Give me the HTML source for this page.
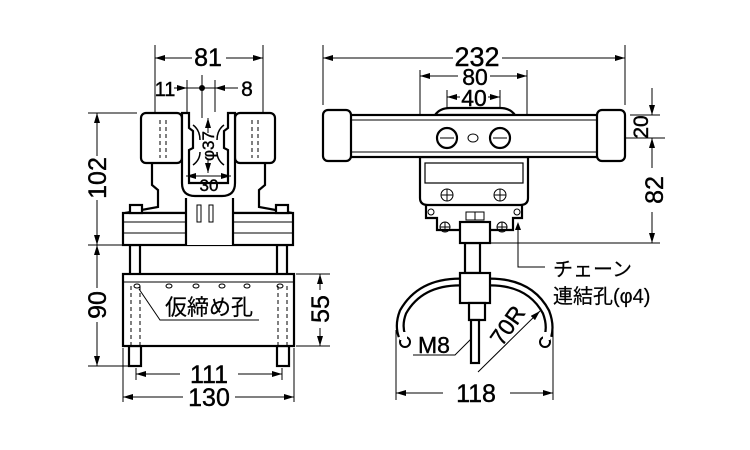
<!DOCTYPE html>
<html><head><meta charset="utf-8"><style>
html,body{margin:0;padding:0;background:#fff;}
svg{display:block;}
text{font-family:"Liberation Sans Narrow","Liberation Sans","Noto Sans CJK JP",sans-serif;fill:#000;stroke:#000;stroke-width:0.4;}
.j{font-family:"Liberation Sans","Noto Sans CJK JP",sans-serif;stroke-width:0.2;}
</style></head><body>
<svg width="750" height="450" viewBox="0 0 750 450" xmlns="http://www.w3.org/2000/svg">
<defs>
<marker id="a" viewBox="0 0 10 6" refX="10" refY="3" markerWidth="10" markerHeight="6" orient="auto-start-reverse" markerUnits="userSpaceOnUse"><path d="M0,0 L10,3 L0,6z" fill="#000"/></marker>
</defs>
<g stroke="#000" fill="none" stroke-width="1">
<line x1="155" y1="45" x2="155" y2="160"/><line x1="263" y1="45" x2="263" y2="160"/>
<line x1="155" y1="58" x2="192" y2="58" marker-start="url(#a)"/><line x1="226" y1="58" x2="263" y2="58" marker-end="url(#a)"/>
<line x1="187" y1="80" x2="187" y2="112"/><line x1="215" y1="80" x2="215" y2="112"/><line x1="202" y1="75" x2="202" y2="118"/>
<line x1="174" y1="88" x2="187" y2="88" marker-end="url(#a)"/><line x1="187" y1="88" x2="215" y2="88"/><line x1="238" y1="88" x2="215" y2="88" marker-end="url(#a)"/>
<line x1="88" y1="113" x2="137" y2="113"/><line x1="88" y1="245" x2="122" y2="245"/><line x1="88" y1="366" x2="129" y2="366"/>
<line x1="97" y1="113" x2="97" y2="156" marker-start="url(#a)"/><line x1="97" y1="200" x2="97" y2="245" marker-end="url(#a)"/>
<line x1="97" y1="245" x2="97" y2="288" marker-start="url(#a)"/><line x1="97" y1="322" x2="97" y2="366" marker-end="url(#a)"/>
<line x1="296" y1="274" x2="330" y2="274"/><line x1="296" y1="346" x2="330" y2="346"/>
<line x1="320" y1="274" x2="320" y2="290" marker-start="url(#a)"/><line x1="320" y1="328" x2="320" y2="346" marker-end="url(#a)"/>
<line x1="136" y1="368" x2="136" y2="380"/><line x1="282" y1="368" x2="282" y2="380"/>
<line x1="136" y1="374" x2="180" y2="374" marker-start="url(#a)"/><line x1="238" y1="374" x2="282" y2="374" marker-end="url(#a)"/>
<line x1="123" y1="348" x2="123" y2="402"/><line x1="294" y1="348" x2="294" y2="402"/>
<line x1="123" y1="397" x2="183" y2="397" marker-start="url(#a)"/><line x1="235" y1="397" x2="294" y2="397" marker-end="url(#a)"/>
</g>
<g stroke="#000" fill="#fff" stroke-width="2.2">
<rect x="130" y="245" width="10" height="30"/><rect x="277" y="245" width="10" height="30"/>
<rect x="129" y="346" width="12" height="20"/><rect x="277" y="346" width="12" height="20"/>
<rect x="123" y="274" width="171" height="72"/>
<path d="M152 160 L152 185 L158 190 L158 207 L125 213 L292 213 L259 207 L259 190 L265 185 L265 160"/>
<rect x="123" y="213" width="170" height="32"/>
<rect x="186" y="198" width="47" height="47" stroke="none"/>
<path d="M186 198 L186 245 M233 198 L233 245"/>
<rect x="141" y="113" width="41" height="50" rx="5"/><rect x="235" y="113" width="40" height="50" rx="5"/>
<path d="M182 113 L182 183 Q182 196 195 196 L222 196 Q235 196 235 183 L235 113 L228 113 L228 128 L224 131 L224 148 L228 150 L228 183 L189 183 L189 150 L193 148 L193 131 L189 128 L189 113 Z"/>
<path d="M193 125 Q200 130 200 140 M224 125 Q217 130 217 140 M193 165 Q200 160 200 152 M224 165 Q217 160 217 152" fill="none" stroke-width="1.5"/>
<rect x="130" y="205" width="12" height="8"/><rect x="276" y="205" width="12" height="8"/>
</g>
<g stroke="#000" fill="none" stroke-width="1">
<line x1="123" y1="282" x2="294" y2="282"/>
<line x1="123" y1="222" x2="186" y2="222"/><line x1="233" y1="222" x2="293" y2="222"/>
<line x1="123" y1="233" x2="186" y2="233"/><line x1="233" y1="233" x2="293" y2="233"/>
<rect x="197" y="205" width="4" height="17"/><rect x="209" y="205" width="4" height="17"/>
<g stroke-dasharray="4,3"><line x1="131" y1="286" x2="131" y2="346"/><line x1="140" y1="286" x2="140" y2="346"/><line x1="278" y1="286" x2="278" y2="346"/><line x1="287" y1="286" x2="287" y2="346"/>
<line x1="160" y1="120" x2="160" y2="158"/><line x1="166" y1="120" x2="166" y2="158"/><line x1="252" y1="120" x2="252" y2="158"/><line x1="258" y1="120" x2="258" y2="158"/></g>
<ellipse cx="137" cy="286" rx="3" ry="2"/><ellipse cx="169" cy="286" rx="3" ry="2"/><ellipse cx="196" cy="286" rx="3" ry="2"/><ellipse cx="222" cy="286" rx="3" ry="2"/><ellipse cx="247" cy="286" rx="3" ry="2"/><ellipse cx="280" cy="286" rx="3" ry="2"/>
<polyline points="259,320 160,320 139,289"/>
<line x1="208" y1="133" x2="208" y2="118" marker-end="url(#a)"/><line x1="208" y1="160" x2="208" y2="173" marker-end="url(#a)"/>
<line x1="186" y1="176" x2="231" y2="176" marker-start="url(#a)" marker-end="url(#a)"/>
</g>
<circle cx="202" cy="88" r="3" fill="#000"/>
<text x="208" y="66" font-size="25" text-anchor="middle">81</text>
<text x="165" y="96" font-size="20" text-anchor="middle">11</text>
<text x="247" y="96" font-size="21" text-anchor="middle">8</text>
<text transform="translate(106,178) rotate(-90)" font-size="25" text-anchor="middle">102</text>
<text transform="translate(106,305) rotate(-90)" font-size="25" text-anchor="middle">90</text>
<text transform="translate(329,309) rotate(-90)" font-size="25" text-anchor="middle">55</text>
<text transform="translate(214,146) rotate(-90)" font-size="17" text-anchor="middle">φ37</text>
<text x="209" y="191" font-size="17" text-anchor="middle">30</text>
<text x="209" y="383" font-size="25" text-anchor="middle">111</text>
<text x="209" y="406" font-size="25" text-anchor="middle">130</text>
<text class="j" x="209" y="315" font-size="22" text-anchor="middle">仮締め孔</text>

<g stroke="#000" fill="none" stroke-width="1">
<line x1="323" y1="45" x2="323" y2="105"/><line x1="625" y1="45" x2="625" y2="105"/>
<line x1="323" y1="58" x2="453" y2="58" marker-start="url(#a)"/><line x1="502" y1="58" x2="625" y2="58" marker-end="url(#a)"/>
<line x1="420" y1="70" x2="420" y2="125"/><line x1="527" y1="70" x2="527" y2="125"/>
<line x1="420" y1="76" x2="458" y2="76" marker-start="url(#a)"/><line x1="490" y1="76" x2="527" y2="76" marker-end="url(#a)"/>
<line x1="447" y1="90" x2="447" y2="152"/><line x1="500" y1="90" x2="500" y2="152"/>
<line x1="447" y1="97" x2="460" y2="97" marker-start="url(#a)"/><line x1="488" y1="97" x2="500" y2="97" marker-end="url(#a)"/>
<line x1="430" y1="138" x2="665" y2="138"/>
<line x1="630" y1="115" x2="660" y2="115"/>
<line x1="652" y1="88" x2="652" y2="115" marker-end="url(#a)"/><line x1="652" y1="165" x2="652" y2="138" marker-end="url(#a)"/>
<line x1="652" y1="138" x2="652" y2="168"/><line x1="652" y1="212" x2="652" y2="243" marker-end="url(#a)"/>
<line x1="490" y1="243" x2="660" y2="243"/>
<g stroke-dasharray="5,3"><line x1="420" y1="125" x2="420" y2="155"/><line x1="527" y1="125" x2="527" y2="155"/></g>
<polyline points="545,267 518,267 518,224"/>
<line x1="396" y1="330" x2="396" y2="400"/><line x1="553" y1="330" x2="553" y2="400"/>
<line x1="396" y1="393" x2="443" y2="393" marker-start="url(#a)"/><line x1="510" y1="393" x2="553" y2="393" marker-end="url(#a)"/>
<polyline points="413,355 455,355 475,335"/>
<line x1="478" y1="372" x2="540" y2="311" marker-end="url(#a)"/>
</g>
<polygon points="518,222 515,230 521,230" fill="#000"/>
<g stroke="#000" fill="#fff" stroke-width="2.2">
<rect x="465" y="243" width="15" height="30"/>
<path d="M402 336 Q398 325 403 312 Q420 282 460 282 L490 282 Q530 282 546 312 Q551 325 548 336" stroke-width="9" fill="none"/>
<path d="M402 336 Q398 325 403 312 Q420 282 460 282 L490 282 Q530 282 546 312 Q551 325 548 336" stroke="#fff" stroke-width="4.5" fill="none"/>
<circle cx="405" cy="342" r="5" stroke-width="2"/><circle cx="545" cy="342" r="5" stroke-width="2"/>
<rect x="400" y="332" width="7" height="8" stroke="none"/><rect x="543" y="332" width="7" height="8" stroke="none"/>
<rect x="460" y="273" width="30" height="30"/>
<rect x="469" y="303" width="16" height="17"/>
<rect x="471" y="320" width="8" height="43"/>
<path d="M426 200 L426 218 L437 218 L437 230 L513 230 L513 218 L522 218 L522 200 Z"/>
<path d="M420 157 L420 198 Q420 205 428 205 L520 205 Q528 205 528 198 L528 157 Z"/>
<rect x="425" y="163" width="98" height="20" stroke-width="1.2"/>
<rect x="460" y="222" width="30" height="21"/>
<path d="M435 115 Q440 108 450 108 L500 108 Q510 108 515 115 Z"/>
<rect x="345" y="115" width="258" height="42"/>
<rect x="323" y="110" width="28" height="51" rx="5"/><rect x="597" y="110" width="28" height="51" rx="5"/>
<circle cx="447" cy="138" r="10"/><circle cx="500" cy="138" r="10"/>
</g>
<g stroke="#000" fill="none" stroke-width="1">
<line x1="351" y1="120" x2="597" y2="120"/><line x1="351" y1="152" x2="597" y2="152"/>
<ellipse cx="473" cy="138" rx="5" ry="4"/>
<line x1="440" y1="138" x2="454" y2="138"/><line x1="493" y1="138" x2="507" y2="138"/>
<circle cx="447" cy="195" r="6"/><line x1="441" y1="195" x2="453" y2="195"/><line x1="447" y1="189" x2="447" y2="201"/>
<circle cx="500" cy="195" r="6"/><line x1="494" y1="195" x2="506" y2="195"/><line x1="500" y1="189" x2="500" y2="201"/>
<circle cx="445" cy="227" r="5"/><line x1="440" y1="227" x2="450" y2="227"/><line x1="445" y1="222" x2="445" y2="232"/>
<circle cx="502" cy="227" r="5"/><line x1="497" y1="227" x2="507" y2="227"/><line x1="502" y1="222" x2="502" y2="232"/>
<circle cx="431" cy="212" r="3"/><circle cx="517" cy="212" r="3"/>
<rect x="466" y="212" width="18" height="8"/><line x1="475" y1="212" x2="475" y2="220"/>
</g>
<text x="477" y="66" font-size="27" text-anchor="middle">232</text>
<text x="475" y="85" font-size="23" text-anchor="middle">80</text>
<text x="474" y="106" font-size="23" text-anchor="middle">40</text>
<text transform="translate(648,127) rotate(-90)" font-size="21" text-anchor="middle">20</text>
<text transform="translate(663,190) rotate(-90)" font-size="25" text-anchor="middle">82</text>
<text x="434" y="353" font-size="23" text-anchor="middle">M8</text>
<text transform="translate(514,330) rotate(-55)" font-size="23" text-anchor="middle">70R</text>
<text x="476" y="402" font-size="25" text-anchor="middle">118</text>
<text class="j" x="553" y="276" font-size="20">チェーン</text>
<text class="j" x="553" y="303" font-size="20">連結孔(φ4)</text>
</svg>
</body></html>
